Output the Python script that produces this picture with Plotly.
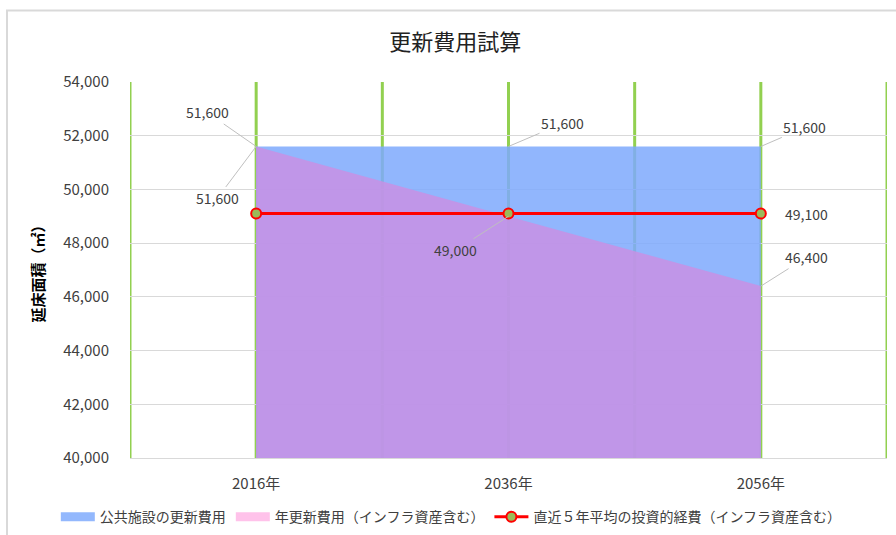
import plotly.graph_objects as go

categories = ["2016年", "2036年", "2056年"]
public_facility = [51600, 51600, 51600]
annual_renewal = [51600, 49000, 46400]
recent_avg = [49100, 49100, 49100]
series_names = ["公共施設の更新費用", "年更新費用（インフラ資産含む）", "直近５年平均の投資的経費（インフラ資産含む）"]
y_ticks = [40000, 42000, 44000, 46000, 48000, 50000, 52000, 54000]

FONT = "Noto Sans CJK JP, Noto Sans, sans-serif"
fig = go.Figure()

fig.add_trace(go.Scatter(x=categories, y=public_facility, mode="lines", fill="tozeroy",
                         fillcolor="rgba(126,169,253,0.85)", line=dict(width=0),
                         showlegend=False, hoverinfo="skip"))
fig.add_trace(go.Scatter(x=categories, y=annual_renewal, mode="lines", fill="tozeroy",
                         fillcolor="rgba(200,144,228,0.85)", line=dict(width=0),
                         showlegend=False, hoverinfo="skip"))
fig.add_trace(go.Scatter(x=categories, y=recent_avg, mode="lines+markers",
                         line=dict(color="#FF0000", width=3),
                         marker=dict(size=10, color="#9BBB59", line=dict(color="#FF0000", width=2)),
                         showlegend=False))

fig.add_trace(go.Scatter(x=[None], y=[None], mode="lines", name=series_names[0],
                         line=dict(color="#93B8FD", width=9)))
fig.add_trace(go.Scatter(x=[None], y=[None], mode="lines", name=series_names[1],
                         line=dict(color="#FFC2EA", width=9)))
fig.add_trace(go.Scatter(x=[None], y=[None], mode="lines+markers", name=series_names[2],
                         line=dict(color="#FF0000", width=3),
                         marker=dict(size=10, color="#9BBB59", line=dict(color="#FF0000", width=2))))

shapes = []
for xv in [-0.5, 0, 0.5, 1, 1.5, 2, 2.5]:
    shapes.append(dict(type="line", xref="x", yref="paper", x0=xv, x1=xv, y0=0, y1=1,
                       line=dict(color="#92D050", width=3), layer="below"))
shapes.append(dict(type="rect", xref="paper", yref="paper", x0=-0.1625, x1=1.05, y0=-0.3, y1=1.19,
                   line=dict(color="#D9D9D9", width=2), layer="below"))

def fmt(v):
    return f"{v:,}"

ann_specs = [
    (0, public_facility[0], -49, -34),
    (0, annual_renewal[0], -39, 52),
    (1, annual_renewal[1], -53, 34),
    (1, public_facility[1], 54, -23),
    (2, public_facility[2], 44, -19),
    (2, annual_renewal[2], 46, -29),
]
annotations = []
for i, v, ax, ay in ann_specs:
    annotations.append(dict(x=i, y=v, xref="x", yref="y", text=fmt(v), showarrow=True,
                            ax=ax, ay=ay, arrowhead=0, arrowwidth=1, arrowcolor="#BFBFBF",
                            font=dict(family=FONT, size=14, color="#404040")))
annotations.append(dict(x=2, y=recent_avg[2], xref="x", yref="y", text=fmt(recent_avg[2]),
                        showarrow=False, xshift=46,
                        font=dict(family=FONT, size=14, color="#404040")))

fig.update_layout(
    width=896, height=535,
    margin=dict(l=130, r=9, t=82, b=77, autoexpand=False),
    paper_bgcolor="white", plot_bgcolor="white",
    title=dict(text="更新費用試算", x=0.508, xanchor="center", y=0.921, yanchor="middle",
               font=dict(family=FONT, size=22, color="#222222")),
    xaxis=dict(type="category", range=[-0.5, 2.5], showgrid=False, zeroline=False,
               showline=True, linecolor="#D9D9D9", linewidth=1, ticks="",
               ticklabelstandoff=12,
               tickfont=dict(family=FONT, size=15, color="#404040")),
    yaxis=dict(range=[40000, 54000], tickvals=y_ticks, tickformat=",d",
               showgrid=True, gridcolor="#D9D9D9", gridwidth=1, zeroline=False,
               showline=False, ticks="", ticklen=0, ticklabelstandoff=20,
               tickfont=dict(family=FONT, size=15, color="#404040"),
               title=dict(text="<b>延床面積（㎡）</b>", standoff=14,
                          font=dict(family=FONT, size=15, color="#000000"))),
    legend=dict(orientation="h", x=-0.098, xanchor="left", y=-0.115, yanchor="top",
                font=dict(family=FONT, size=14, color="#404040"),
                itemwidth=34, tracegroupgap=0),
    shapes=shapes,
    annotations=annotations,
)

fig.write_html("out.html")
